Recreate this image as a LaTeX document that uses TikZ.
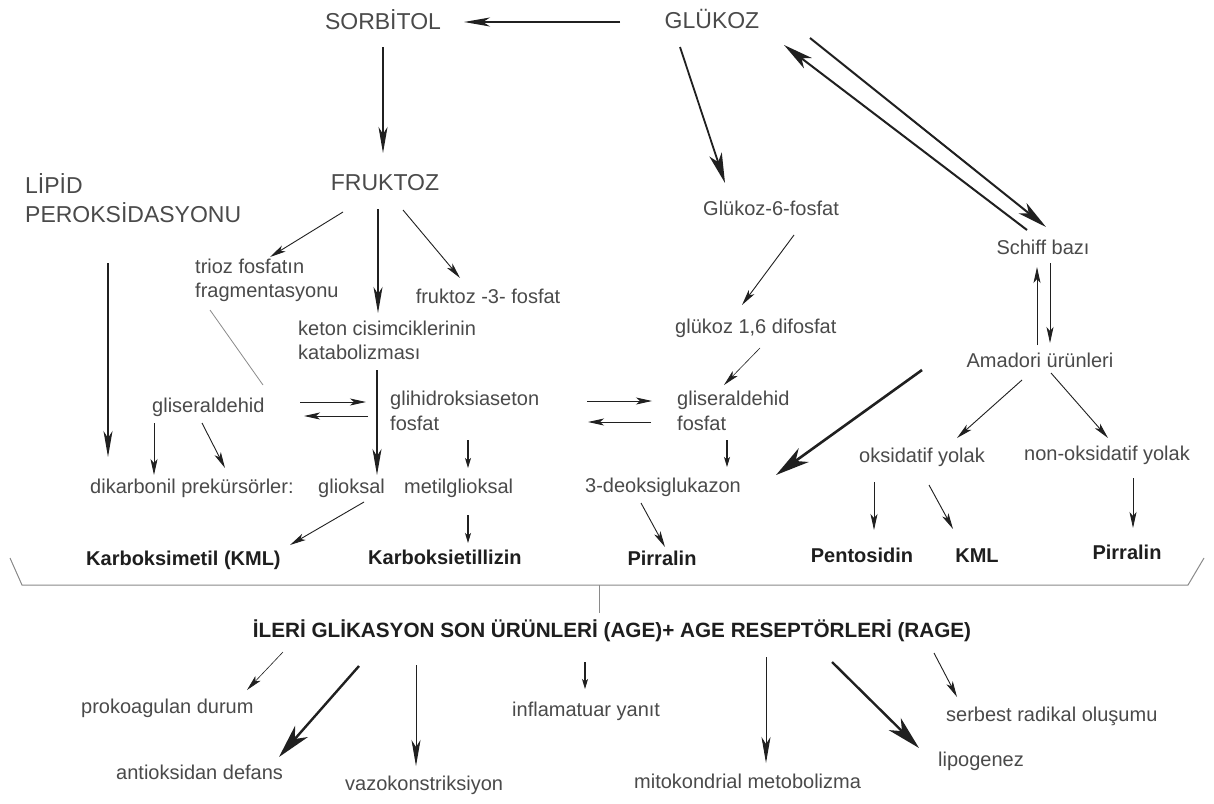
\documentclass[tikz,border=0pt]{standalone}
\usepackage{fontspec}
\setmainfont{Liberation Sans}
\usetikzlibrary{arrows.meta}
\definecolor{txt}{HTML}{4A4A4A}
\definecolor{dark}{HTML}{1E1E1E}
\definecolor{ln}{HTML}{202020}
\definecolor{brc}{HTML}{8A8A8A}
\begin{document}
\begin{tikzpicture}[x=1pt,y=-1pt,
  big/.style={font=\fontsize{23}{28}\selectfont, text=txt, inner sep=0pt},
  lbl/.style={font=\fontsize{20}{24}\selectfont, text=txt, inner sep=0pt},
  bld/.style={font=\fontsize{20}{24}\selectfont\bfseries, text=dark, inner sep=0pt},
  ttl/.style={font=\fontsize{20.7}{24}\selectfont\bfseries, text=dark, inner sep=0pt},
  arr/.style={draw=ln, line width=1.2pt, -{Stealth[length=26pt,width=9pt,inset=7pt]}},
  sarr/.style={draw=ln, line width=1.1pt, -{Stealth[length=10pt,width=6pt,inset=2.5pt]}},
  tarr/.style={draw=ln, line width=0.9pt, -{Stealth[length=16pt,width=7pt,inset=4pt]}},
  marr/.style={draw=ln, line width=1.8pt, -{Stealth[length=30pt,width=13pt,inset=8pt]}},
  karr/.style={draw=ln, line width=2.6pt, -{Stealth[length=34pt,width=17pt,inset=10pt]}},
  thin/.style={draw=brc, line width=0.8pt}
]
\useasboundingbox[fill=white] (0,0) rectangle (1214,803);

% ---------- top ----------
\node[big, anchor=base] (sorb) at (383,29) {SORBİTOL};
\node[big, anchor=base] (glu) at (712,28) {GLÜKOZ};
\node[big, anchor=base] (fruk) at (385,190) {FRUKTOZ};
\node[big, anchor=base west] (lipid1) at (25,193) {LİPİD};
\node[big, anchor=base west] (lipid2) at (25,222) {PEROKSİDASYONU};

% ---------- middle left ----------
\node[lbl, anchor=base west] (trioz1) at (195,273) {trioz fosfatın};
\node[lbl, anchor=base west] (trioz2) at (195,297) {fragmentasyonu};
\node[lbl, anchor=base] (fr3p) at (488,303) {fruktoz -3- fosfat};
\node[lbl, anchor=base west] (keton1) at (298,335) {keton cisimciklerinin};
\node[lbl, anchor=base west] (keton2) at (298,359) {katabolizması};
\node[lbl, anchor=base west] (glis) at (152,412) {gliseraldehid};
\node[lbl, anchor=base west] (gha1) at (390,405) {glihidroksiaseton};
\node[lbl, anchor=base west] (gha2) at (390,430) {fosfat};
\node[lbl, anchor=base west] (dikarb) at (90,493) {dikarbonil prekürsörler:};
\node[lbl, anchor=base west] (gliok) at (318,493) {glioksal};
\node[lbl, anchor=base west] (metil) at (404,493) {metilglioksal};

% ---------- middle right ----------
\node[lbl, anchor=base west] (g6p) at (703,215) {Glükoz-6-fosfat};
\node[lbl, anchor=base west] (g16) at (675,333) {glükoz 1,6 difosfat};
\node[lbl, anchor=base west] (gf1) at (677,405) {gliseraldehid};
\node[lbl, anchor=base west] (gf2) at (677,430) {fosfat};
\node[lbl, anchor=base east] (deoksi) at (741,492) {3-deoksiglukazon};
\node[lbl, anchor=base] (schiff) at (1043,254) {Schiff bazı};
\node[lbl, anchor=base] (amadori) at (1040,367) {Amadori ürünleri};
\node[lbl, anchor=base] (oks) at (922,462) {oksidatif yolak};
\node[lbl, anchor=base] (nonoks) at (1107,460) {non-oksidatif yolak};

% ---------- products ----------
\node[bld, anchor=base west] (kml1) at (86,565) {Karboksimetil (KML)};
\node[bld, anchor=base west] (karbe) at (368,564) {Karboksietillizin};
\node[bld, anchor=base] (pirr1) at (662,565) {Pirralin};
\node[bld, anchor=base] (pent) at (862,562) {Pentosidin};
\node[bld, anchor=base] (kml2) at (977,562) {KML};
\node[bld, anchor=base] (pirr2) at (1127,559) {Pirralin};

% ---------- AGE ----------
\node[ttl, anchor=base] (age) at (612,637) {İLERİ GLİKASYON SON ÜRÜNLERİ (AGE)+ AGE RESEPTÖRLERİ (RAGE)};
\node[lbl, anchor=base west] (prok) at (81,713) {prokoagulan durum};
\node[lbl, anchor=base west] (antiok) at (116,779) {antioksidan defans};
\node[lbl, anchor=base west] (vazo) at (345,790) {vazokonstriksiyon};
\node[lbl, anchor=base west] (infl) at (512,716) {inflamatuar yanıt};
\node[lbl, anchor=base west] (mito) at (634,788) {mitokondrial metobolizma};
\node[lbl, anchor=base west] (lipo) at (938,766) {lipogenez};
\node[lbl, anchor=base west] (serb) at (946,721) {serbest radikal oluşumu};

% ---------- connector end points ----------
\coordinate (glu-w) at (620,22);   \coordinate (sorb-e) at (464,22);
\coordinate (sorb-s) at (383,47);  \coordinate (fruk-n) at (383,153);
\coordinate (lip-s) at (108,263);  \coordinate (dik-n) at (108,457);
\coordinate (fr-sw) at (343,212);  \coordinate (tri-n) at (270,257);
\coordinate (fr-s) at (378,209);   \coordinate (ket-n) at (378,313);
\coordinate (fr-se) at (403,210);  \coordinate (f3p-n) at (460,278);
\coordinate (tri-s) at (210,310);  \coordinate (gli-ne) at (263,385);
\coordinate (gli-e1) at (300,402); \coordinate (gha-w1) at (366,402);
\coordinate (gha-w2) at (368,416); \coordinate (gli-e2) at (304,416);
\coordinate (ket-s) at (377,370);  \coordinate (gok-n) at (377,475);
\coordinate (gli-s1) at (154,423); \coordinate (dik-n1) at (154,475);
\coordinate (gli-s2) at (202,423); \coordinate (dik-n2) at (225,468);
\coordinate (gha-s) at (468,440);  \coordinate (met-n) at (468,468);
\coordinate (gok-s) at (364,502);  \coordinate (kml-ne) at (290,545);
\coordinate (met-s) at (468,515);  \coordinate (kbe-n) at (468,543);
\coordinate (gha-e1) at (587,401); \coordinate (gf-w1) at (652,401);
\coordinate (gf-w2) at (651,422);  \coordinate (gha-e2) at (588,422);
\coordinate (glu-s) at (680,47);   \coordinate (g6p-n) at (725,183);
\coordinate (g6p-s) at (794,235);  \coordinate (g16-n) at (742,305);
\coordinate (g16-s) at (760,348);  \coordinate (gf-n) at (724,385);
\coordinate (gf-s) at (727,440);   \coordinate (deo-n) at (727,467);
\coordinate (deo-s) at (641,503);  \coordinate (pir1-n) at (665,547);
\coordinate (glu-se1) at (810,38); \coordinate (sch-nw1) at (1046,227);
\coordinate (sch-nw2) at (1027,230); \coordinate (glu-se2) at (784,45);
\coordinate (ama-n1) at (1037,345); \coordinate (sch-s1) at (1037,267);
\coordinate (sch-s2) at (1050,263); \coordinate (ama-n2) at (1050,343);
\coordinate (ama-w) at (922,370);  \coordinate (deo-e) at (776,475);
\coordinate (ama-s1) at (1022,380); \coordinate (oks-n) at (957,438);
\coordinate (ama-s2) at (1051,373); \coordinate (non-n) at (1108,438);
\coordinate (oks-s1) at (874,482); \coordinate (pent-n) at (874,530);
\coordinate (oks-s2) at (929,485); \coordinate (kml2-n) at (953,529);
\coordinate (non-s) at (1133,478); \coordinate (pir2-n) at (1133,528);
% brace
\coordinate (br-l) at (10,558);  \coordinate (br-bl) at (22,585);
\coordinate (br-br) at (1188,585); \coordinate (br-r) at (1204,558);
\coordinate (br-m) at (599,585); \coordinate (age-n) at (599,613);
% AGE outcomes
\coordinate (age-1) at (283,652); \coordinate (prok-n) at (247,690);
\coordinate (age-2) at (359,666); \coordinate (anti-n) at (279,757);
\coordinate (age-3) at (416,665); \coordinate (vazo-n) at (416,766);
\coordinate (age-4) at (585,662); \coordinate (infl-n) at (585,689);
\coordinate (age-5) at (766,657); \coordinate (mito-n) at (766,763);
\coordinate (age-6) at (832,662); \coordinate (lipo-n) at (919,748);
\coordinate (age-7) at (934,653); \coordinate (serb-n) at (957,697);

% ---------- connectors ----------
\draw[arr] (glu-w) -- (sorb-e);
\draw[arr] (sorb-s) -- (fruk-n);
\draw[arr] (lip-s) -- (dik-n);
\draw[tarr] (fr-sw) -- (tri-n);
\draw[arr] (fr-s) -- (ket-n);
\draw[tarr] (fr-se) -- (f3p-n);
\draw[thin] (tri-s) -- (gli-ne);
\draw[tarr] (gli-e1) -- (gha-w1);
\draw[tarr] (gha-w2) -- (gli-e2);
\draw[arr] (ket-s) -- (gok-n);
\draw[tarr] (gli-s1) -- (dik-n1);
\draw[tarr] (gli-s2) -- (dik-n2);
\draw[sarr] (gha-s) -- (met-n);
\draw[tarr] (gok-s) -- (kml-ne);
\draw[sarr] (met-s) -- (kbe-n);
\draw[tarr] (gha-e1) -- (gf-w1);
\draw[tarr] (gf-w2) -- (gha-e2);
\draw[marr] (glu-s) -- (g6p-n);
\draw[tarr] (g6p-s) -- (g16-n);
\draw[tarr, line width=0.6pt] (g16-s) -- (gf-n);
\draw[sarr] (gf-s) -- (deo-n);
\draw[tarr] (deo-s) -- (pir1-n);
\draw[marr, line width=2pt] (glu-se1) -- (sch-nw1);
\draw[marr, line width=2pt] (sch-nw2) -- (glu-se2);
\draw[tarr] (ama-n1) -- (sch-s1);
\draw[tarr] (sch-s2) -- (ama-n2);
\draw[karr] (ama-w) -- (deo-e);
\draw[tarr] (ama-s1) -- (oks-n);
\draw[tarr] (ama-s2) -- (non-n);
\draw[tarr] (oks-s1) -- (pent-n);
\draw[tarr] (oks-s2) -- (kml2-n);
\draw[tarr] (non-s) -- (pir2-n);

\draw[draw=brc, line width=1pt] (br-l) -- (br-bl) -- (br-br) -- (br-r);
\draw[draw=brc, line width=1pt] (br-m) -- (age-n);

\draw[tarr, line width=0.6pt] (age-1) -- (prok-n);
\draw[karr, line width=2.4pt] (age-2) -- (anti-n);
\draw[arr, line width=1pt] (age-3) -- (vazo-n);
\draw[sarr] (age-4) -- (infl-n);
\draw[arr, line width=1pt] (age-5) -- (mito-n);
\draw[karr, line width=2.4pt] (age-6) -- (lipo-n);
\draw[tarr] (age-7) -- (serb-n);
\end{tikzpicture}
\end{document}
